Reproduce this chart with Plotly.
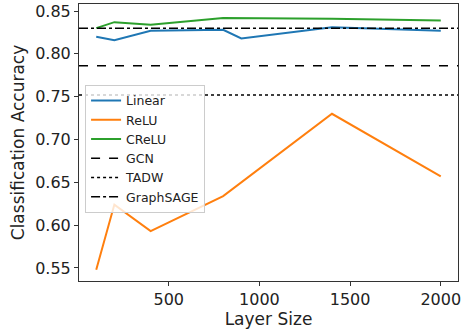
import plotly.graph_objects as go

layer_sizes = [100, 200, 400, 800, 900, 1400, 2000]
linear_acc = [0.820, 0.816, 0.827, 0.828, 0.818, 0.831, 0.827]
relu_sizes = [100, 200, 400, 800, 1400, 2000]
relu_acc = [0.548, 0.624, 0.593, 0.634, 0.730, 0.657]
crelu_sizes = [100, 200, 400, 800, 1400, 2000]
crelu_acc = [0.830, 0.837, 0.834, 0.842, 0.841, 0.839]
gcn_acc = 0.786
tadw_acc = 0.752
graphsage_acc = 0.830

x_range = [5, 2095]
y_range = [0.5348, 0.8582]

fig = go.Figure()
fig.add_trace(go.Scatter(x=layer_sizes, y=linear_acc, mode="lines", name="Linear",
                         line=dict(color="#1f77b4", width=2)))
fig.add_trace(go.Scatter(x=relu_sizes, y=relu_acc, mode="lines", name="ReLU",
                         line=dict(color="#ff7f0e", width=2)))
fig.add_trace(go.Scatter(x=crelu_sizes, y=crelu_acc, mode="lines", name="CReLU",
                         line=dict(color="#2ca02c", width=2)))
fig.add_trace(go.Scatter(x=x_range, y=[gcn_acc] * 2, mode="lines", name="GCN",
                         line=dict(color="black", width=1.5, dash="dash")))
fig.add_trace(go.Scatter(x=x_range, y=[tadw_acc] * 2, mode="lines", name="TADW",
                         line=dict(color="black", width=1.5, dash="dot")))
fig.add_trace(go.Scatter(x=x_range, y=[graphsage_acc] * 2, mode="lines", name="GraphSAGE",
                         line=dict(color="black", width=1.5, dash="dashdot")))

axis_common = dict(showline=True, linecolor="#333", linewidth=1, mirror=True,
                   ticks="outside", ticklen=4, tickcolor="#333", showgrid=False,
                   zeroline=False, automargin=False, ticklabeloverflow="allow",
                   tickfont=dict(size=16, color="#222"))

fig.update_layout(
    width=461, height=332,
    margin=dict(l=79, r=3, t=4, b=51),
    paper_bgcolor="white", plot_bgcolor="white",
    font=dict(family="DejaVu Sans", color="#222"),
    xaxis=dict(range=x_range, tickvals=[500, 1000, 1500, 2000],
               title=dict(text="Layer Size", font=dict(size=17), standoff=4), **axis_common),
    yaxis=dict(range=y_range, tickvals=[0.55, 0.60, 0.65, 0.70, 0.75, 0.80, 0.85],
               tickformat=".2f",
               title=dict(text="Classification Accuracy", font=dict(size=17), standoff=6), **axis_common),
    legend=dict(x=0.016, y=0.708, xanchor="left", yanchor="top",
                bgcolor="rgba(255,255,255,0.8)", bordercolor="#ccc", borderwidth=1,
                font=dict(size=12.5), tracegroupgap=0, itemwidth=30),
    showlegend=True,
)

fig.write_html("out.html", config={"displayModeBar": False},
               post_script="document.body.style.margin='0';")
